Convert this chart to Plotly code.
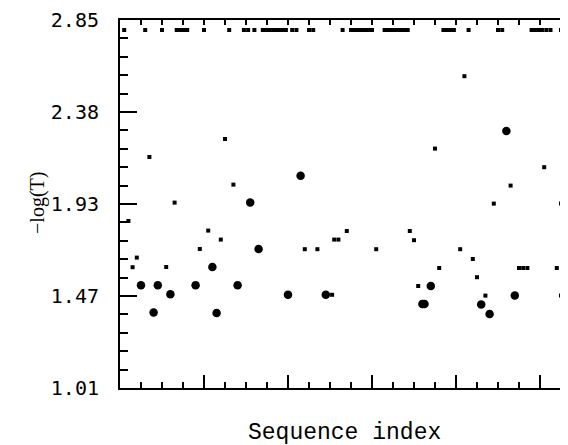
import plotly.graph_objects as go

# Sequence index of the points (unitless), -log(T) values
top_x = [2, 12, 20, 27, 28, 29, 30, 31, 32, 40, 52, 59, 61, 64,
         68, 69, 70, 71, 72, 73, 74, 75, 76, 77, 78, 79, 82, 84, 90, 92,
         106, 110, 111, 112, 113, 114, 115, 116, 117, 118, 119, 120,
         126, 127, 128, 129, 130, 131, 132, 133, 134, 135, 136, 137,
         154, 155, 156, 157, 158, 159, 166, 180, 182,
         196, 197, 198, 199, 200, 201, 203, 205, 210]
top_y = [2.80] * len(top_x)

small_x = [4, 6, 8, 14, 22, 26, 38, 42, 48, 50, 54, 88, 94, 101, 102, 104, 108,
           122, 138, 140, 142, 150, 152, 162, 164, 168, 170, 174, 178, 186,
           190, 192, 194, 202, 208, 210, 212, 211, 213, 210, 212]
small_y = [1.845, 1.614, 1.662, 2.165, 1.615, 1.937, 1.705, 1.797, 1.752, 2.255,
           2.027, 1.704, 1.704, 1.476, 1.752, 1.752, 1.795,
           1.704, 1.795, 1.749, 1.520, 2.207, 1.610, 1.704, 2.569, 1.655, 1.564,
           1.472, 1.932, 2.022,
           1.610, 1.610, 1.610, 2.114, 1.610, 1.932, 1.932, 2.387, 2.387, 1.472, 1.472]

large_x = [10, 16, 18, 24, 36, 44, 46, 56, 62, 66, 80, 86, 98,
           144, 145, 148, 172, 176, 184, 188, 213]
large_y = [1.524, 1.387, 1.524, 1.479, 1.524, 1.615, 1.385, 1.524, 1.937, 1.705,
           1.476, 2.071, 1.476, 1.430, 1.430, 1.520, 1.428, 1.380, 2.295, 1.472, 1.655]

y_tickvals = [1.01, 1.47, 1.93, 2.39, 2.85]
y_ticktext = ["1.01", "1.47", "1.93", "2.38", "2.85"]

XMAX = 448 / 2.1

fig = go.Figure()
fig.add_trace(go.Scatter(x=small_x, y=small_y, mode="markers",
                         marker=dict(symbol="square", size=4, color="black"),
                         showlegend=False))
fig.add_trace(go.Scatter(x=large_x, y=large_y, mode="markers",
                         marker=dict(symbol="circle", size=8.5, color="black"),
                         showlegend=False))
fig.add_trace(go.Scatter(x=top_x, y=top_y, mode="markers", xaxis="x2",
                         marker=dict(symbol="square", size=4, color="black"),
                         showlegend=False))

fig.update_layout(
    width=560, height=437,
    margin=dict(l=112, r=0, t=12, b=57, autoexpand=False),
    paper_bgcolor="white", plot_bgcolor="white",
    xaxis=dict(range=[0, XMAX], showgrid=False, zeroline=False, automargin=False,
               showline=True, linecolor="black", linewidth=2,
               ticks="inside", tick0=0, dtick=40, ticklen=13, tickwidth=1.5,
               tickcolor="black", showticklabels=False,
               minor=dict(ticks="inside", dtick=10, tick0=0, ticklen=6,
                          tickwidth=1.5, tickcolor="black", showgrid=False)),
    xaxis2=dict(range=[0, XMAX], overlaying="x", side="top", anchor="y",
                automargin=False,
                showgrid=False, zeroline=False, showline=True,
                linecolor="black", linewidth=2, ticks="inside", tick0=0,
                dtick=10, ticklen=5, tickwidth=1.5, tickcolor="black",
                showticklabels=False),
    yaxis=dict(range=[1.01, 2.85], showgrid=False, zeroline=False, automargin=False,
               showline=True, linecolor="black", linewidth=2,
               ticks="inside", tickvals=y_tickvals, ticktext=y_ticktext,
               ticklen=17, tickwidth=1.5, tickcolor="black",
               ticklabelstandoff=15,
               tickfont=dict(family="DejaVu Sans Mono", size=20, color="black"),
               minor=dict(ticks="inside", tickvals=[1.01 + 0.092 * i for i in range(21)],
                          ticklen=8, tickwidth=1.5, tickcolor="black", showgrid=False)),
    annotations=[
        dict(text="Sequence index", xref="paper", yref="paper", x=0.5, y=-0.122,
             xanchor="center", yanchor="middle", showarrow=False,
             font=dict(family="Liberation Mono", size=23, color="black")),
        dict(text="\u2212log(T)", xref="paper", yref="paper", x=-0.183, y=0.503,
             xanchor="center", yanchor="middle", showarrow=False, textangle=-90,
             font=dict(family="Liberation Serif", size=20, color="black")),
    ],
)

fig.write_html("out.html")
